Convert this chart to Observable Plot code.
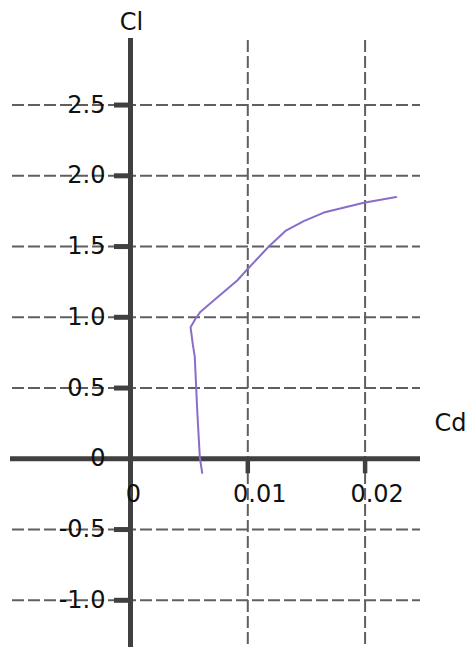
<!DOCTYPE html>
<html>
<head>
<meta charset="utf-8">
<script src="https://cdn.jsdelivr.net/npm/d3@7"></script>
<script src="https://cdn.jsdelivr.net/npm/@observablehq/plot@0.6"></script>
<style>
  html, body { margin: 0; padding: 0; background: #fff; }
  #chart svg { display: block; }
</style>
</head>
<body>
<div id="chart"></div>
<script>
// Data (Cd, Cl)
const cd = [0.00611, 0.00591, 0.00569, 0.00548, 0.00531, 0.00512, 0.00554, 0.00597, 0.00739, 0.00910, 0.00997, 0.01179, 0.01321, 0.01477, 0.01648, 0.01989, 0.02265];
const cl = [-0.10, 0.01, 0.34, 0.72, 0.81, 0.93, 0.99, 1.04, 1.14, 1.26, 1.34, 1.50, 1.61, 1.68, 1.74, 1.81, 1.85];

// Ticks
const xTicks = [0, 0.01, 0.02];
const xTickLabels = ["0", "0.01", "0.02"];
const yTicks = [-1, -0.5, 0, 0.5, 1, 1.5, 2, 2.5];
const yTickLabels = ["-1.0", "-0.5", "0", "0.5", "1.0", "1.5", "2.0", "2.5"];
const xTitle = "Cd";
const yTitle = "Cl";

const W = 470, H = 647;
const xDomain = [-0.011083, 0.028986];
const yDomain = [-1.3336, 3.2389];
// helpers converting pixel layout to data units (layout only)
const pxX = p => xDomain[0] + p / W * (xDomain[1] - xDomain[0]);
const pxY = p => yDomain[1] - p / H * (yDomain[1] - yDomain[0]);
const dxPx = p => p / W * (xDomain[1] - xDomain[0]);
const dyPx = p => p / H * (yDomain[1] - yDomain[0]);

const curve = cd.map((v, i) => ({cd: v, cl: cl[i]}));
const yt = yTicks.map((v, i) => ({v, label: yTickLabels[i]}));
const xt = xTicks.map((v, i) => ({v, label: xTickLabels[i]}));

const gridColor = "#5f5f5f";
const axisColor = "#404040";
const FONT = "DejaVu Sans, Verdana, sans-serif";

const chart = Plot.plot({
  width: W,
  height: H,
  margin: 0,
  style: {background: "#fff", fontFamily: FONT},
  x: {type: "linear", domain: xDomain, axis: null},
  y: {type: "linear", domain: yDomain, axis: null},
  marks: [
    // horizontal grid
    Plot.ruleY(yTicks.filter(d => d !== 0), {x1: pxX(12), x2: pxX(420), stroke: gridColor, strokeWidth: 2, strokeDasharray: "12,4"}),
    // vertical grid
    Plot.ruleX(xTicks.filter(d => d !== 0), {y1: pxY(40), y2: yDomain[0], stroke: gridColor, strokeWidth: 2, strokeDasharray: "12,4"}),
    // axes
    Plot.ruleY([0], {x1: pxX(10), x2: pxX(420), stroke: axisColor, strokeWidth: 5}),
    Plot.ruleX([0], {y1: pxY(38), y2: yDomain[0], stroke: axisColor, strokeWidth: 5}),
    // tick marks
    Plot.ruleY(yTicks.filter(d => d !== 0), {x1: -dxPx(16), x2: 0, stroke: axisColor, strokeWidth: 5}),
    Plot.ruleX(xTicks.filter(d => d !== 0), {y1: 0, y2: -dyPx(15), stroke: axisColor, strokeWidth: 4.5}),
    // curve
    Plot.line(curve, {x: "cd", y: "cl", stroke: "#8a6dc8", strokeWidth: 2}),
    // y tick labels
    Plot.text(yt, {x: 0, y: "v", text: "label", textAnchor: "end", dx: -25, fontSize: 24, fill: "#111"}),
    // x tick labels
    Plot.text(xt.filter(d => d.v !== 0), {x: "v", y: 0, text: "label", dx: 12, dy: 36, fontSize: 24, fill: "#111"}),
    Plot.text(xt.filter(d => d.v === 0), {x: "v", y: 0, text: "label", dx: 3, dy: 36, fontSize: 24, fill: "#111"}),
    // axis titles
    Plot.text([yTitle], {x: 0, y: pxY(22), text: d => d, dx: 1, fontSize: 24, fill: "#111"}),
    Plot.text([xTitle], {x: pxX(450), y: pxY(423), text: d => d, fontSize: 24, fill: "#111"})
  ]
});
document.getElementById("chart").appendChild(chart);
</script>
</body>
</html>
